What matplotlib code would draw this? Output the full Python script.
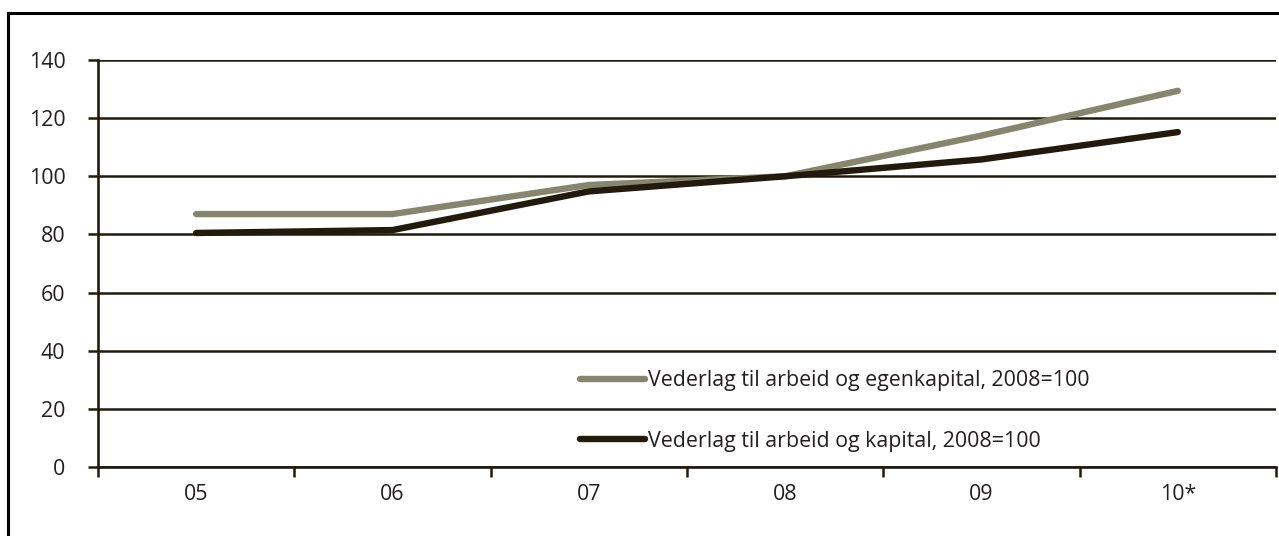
import numpy as np
import matplotlib.pyplot as plt
from matplotlib.lines import Line2D

years = ["05", "06", "07", "08", "09", "10*"]
egenkapital = [87, 87, 97, 100, 114, 129.4]
kapital = [80.5, 81.5, 94.8, 100, 105.8, 115.2]
labels = ["Vederlag til arbeid og egenkapital, 2008=100",
          "Vederlag til arbeid og kapital, 2008=100"]
yticks = [0, 20, 40, 60, 80, 100, 120, 140]

dark = "#231a0e"
grey = "#86866f"

plt.rcParams['font.family'] = ['Open Sans', 'DejaVu Sans']
plt.rcParams['font.size'] = 15.4

fig = plt.figure(figsize=(12.79, 5.36), dpi=100)
ax = fig.add_axes([98/1279, 69/536, 1178/1279, 407/536])

x = np.arange(len(years))
ax.plot(x, egenkapital, color=grey, lw=4.6, solid_capstyle='round',
        solid_joinstyle='round', label=labels[0], zorder=3)
ax.plot(x, kapital, color=dark, lw=4.6, solid_capstyle='round',
        solid_joinstyle='round', label=labels[1], zorder=3)

ax.set_xlim(-0.5, 5.5)
ax.set_ylim(0, 140)
ax.set_yticks(yticks)
ax.yaxis.grid(True, color=dark, lw=1.8)
ax.set_axisbelow(True)
ax.set_xticks(x, years)
ax.set_xticks(np.arange(-0.5, 6), minor=True)
ax.tick_params(axis='x', which='major', length=0, pad=12, colors=dark, labelcolor="#231f20")
ax.tick_params(axis='x', which='minor', length=7.5, width=1.8, direction='out', color=dark)
ax.tick_params(axis='y', length=7.5, width=1.8, pad=16, color=dark, labelcolor="#231f20")

for s in ['top', 'right']:
    ax.spines[s].set_visible(False)
for s in ['left', 'bottom']:
    ax.spines[s].set_color(dark)
    ax.spines[s].set_linewidth(1.9)

leg = ax.legend(loc='upper left', bbox_to_anchor=(0.409, 0.238), frameon=False,
                handlelength=3.05, handletextpad=0.12, labelspacing=1.85,
                borderpad=0, borderaxespad=0)
for t in leg.get_texts():
    t.set_color("#231f20")

# outer frame (top and left edges only)
fig.add_artist(Line2D([8/1279, 1.0], [1 - 13/536, 1 - 13/536], transform=fig.transFigure,
                      color='black', lw=2.2))
fig.add_artist(Line2D([8/1279, 8/1279], [0, 1 - 13/536], transform=fig.transFigure,
                      color='black', lw=2.2))

fig.savefig("out.png", dpi=100)
